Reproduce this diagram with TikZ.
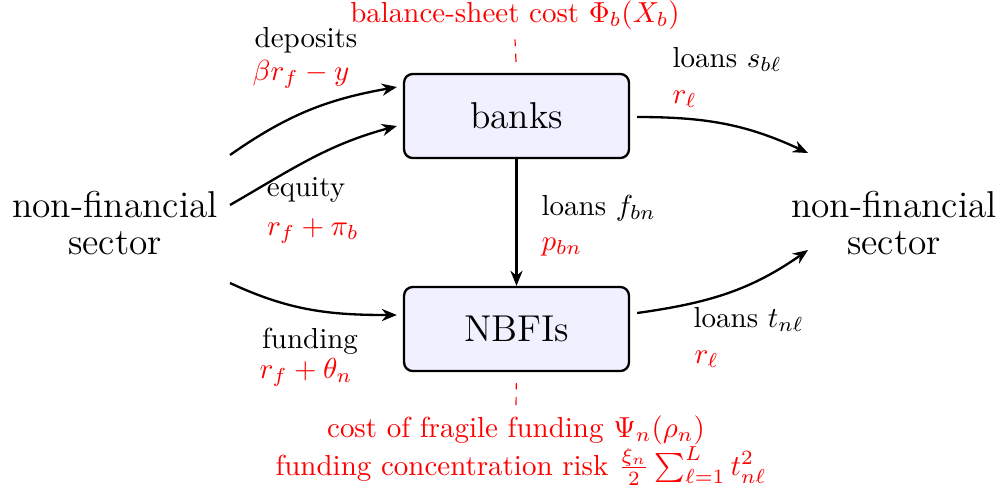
\documentclass[tikz,border=0pt]{standalone}
\usetikzlibrary{arrows.meta,calc}
\begin{document}
\begin{tikzpicture}[x=0.345pt,y=0.345pt,
  big/.style={font=\fontsize{12.9}{12.8}\selectfont, align=center},
  small/.style={font=\fontsize{10}{12}\selectfont, inner sep=0pt},
  cost/.style={small, text=red},
  inst/.style={draw, thick, rounded corners=3pt, fill=blue!6,
    minimum width=77.6pt, minimum height=29pt,
    font=\fontsize{12.9}{14}\selectfont},
  flow/.style={thick, -{Stealth[length=5.2pt,width=4.2pt]}},
  link/.style={red, dash pattern=on 2.8pt off 2.6pt, thin}]
\useasboundingbox (0,0) rectangle (1003,-495);

% institutions and sectors
\node[inst] (banks) at (516.5,-116) {banks};
\node[inst] (nbfi) at (516.5,-329) {NBFIs};
\node[big] (lnf) at (115,-223) {non-financial\\sector};
\node[big] (rnf) at (894,-223) {non-financial\\sector};

% flow labels: instrument and its price
\node[small, anchor=base] (ldep) at (306,-47) {deposits};
\node[cost, anchor=base] (cdep) at (301,-80) {$\beta r_f - y$};
\node[small, anchor=base] (leq) at (306,-196) {equity};
\node[cost, anchor=base] (ceq) at (313,-235) {$r_f + \pi_b$};
\node[small, anchor=base] (lfund) at (310,-348) {funding};
\node[cost, anchor=base] (cfund) at (306,-378) {$r_f + \theta_n$};
\node[small, anchor=base west] (lsb) at (672,-67) {loans $s_{b\ell}$};
\node[cost, anchor=base west] (csb) at (672,-103) {$r_\ell$};
\node[small, anchor=base west] (lfb) at (541,-215) {loans $f_{bn}$};
\node[cost, anchor=base west] (cfb) at (541,-250) {$p_{bn}$};
\node[small, anchor=base west] (ltn) at (693,-327) {loans $t_{n\ell}$};
\node[cost, anchor=base west] (ctn) at (694,-363) {$r_\ell$};

% cost terms
\node[cost, anchor=base, inner sep=3.33pt] (phi) at (515,-22) {balance-sheet cost $\Phi_b(X_b)$};
\node[cost, anchor=base, inner sep=3.33pt] (psi) at (516,-437) {cost of fragile funding $\Psi_n(\rho_n)$};
\node[cost, anchor=base] (xi) at (521,-475) {funding concentration risk $\frac{\xi_n}{2}\sum_{\ell=1}^{L} t_{n\ell}^2$};

% loose ends of the flows
\coordinate (d0) at (230,-155);
\coordinate (e0) at (230,-205);
\coordinate (f0) at (230,-283);
\coordinate (s1) at (808,-153);
\coordinate (t1) at (808,-250);

% flows
\draw[flow] (d0) to[out=35,in=190] ($(banks.west)+(-6,29)$);
\draw[flow] (e0) to[out=30,in=195] ($(banks.west)+(-6,-10)$);
\draw[flow] (f0) to[out=-25,in=180] ($(nbfi.west)+(-6,14)$);
\draw[flow] ($(banks.east)+(7,-1)$) to[out=0,in=155] (s1);
\draw[flow] ($(nbfi.east)+(7,16)$) to[out=8,in=215] (t1);
\draw[flow] (banks) -- (nbfi);

% cost links
\draw[link, shorten <=3.8pt] (banks.north) -- (phi.south);
\draw[link, shorten >=3.8pt] (psi.north) -- (nbfi.south);
\end{tikzpicture}
\end{document}
